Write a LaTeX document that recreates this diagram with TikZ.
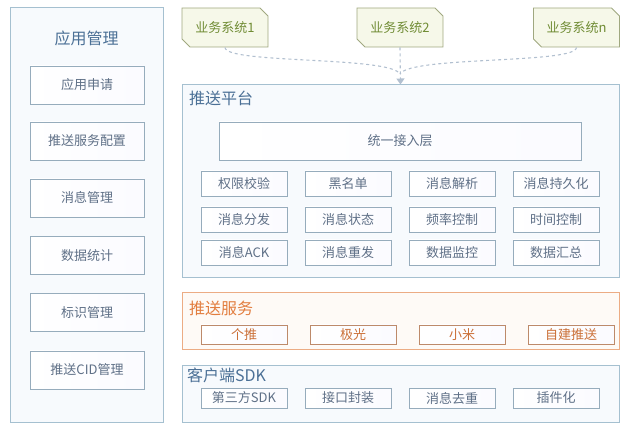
\documentclass[tikz,border=0pt]{standalone}
\usepackage{fontspec}
\usetikzlibrary{shapes.misc,arrows.meta}
\newfontfamily\cjk{Noto Sans CJK SC}

\definecolor{panelline}{RGB}{165,192,208}
\definecolor{panelfill}{RGB}{247,250,253}
\definecolor{boxline}{RGB}{150,172,188}
\definecolor{boxtext}{RGB}{95,112,135}
\definecolor{titletext}{RGB}{75,112,150}
\definecolor{orangeline}{RGB}{236,172,132}
\definecolor{orangetext}{RGB}{226,125,62}
\definecolor{orangefill}{RGB}{254,250,246}
\definecolor{sysfill}{RGB}{246,248,233}
\definecolor{sysline}{RGB}{160,168,128}
\definecolor{systext}{RGB}{112,140,52}
\definecolor{flowline}{RGB}{178,192,208}

\tikzset{
  panel/.style={draw=panelline, line width=1pt, fill=panelfill, inner sep=0},
  opanel/.style={draw=orangeline, line width=1pt, fill=orangefill, inner sep=0},
  item/.style={draw=boxline, line width=0.9pt, left color=white, right color=panelfill!60!blue!4,
    text=boxtext, font=\cjk\fontsize{13}{15}\selectfont, inner sep=0},
  oitem/.style={item, draw=orangeline!80!black, text=orangetext!90!black},
  ptitle/.style={text=titletext, font=\cjk\fontsize{16}{18}\selectfont, inner sep=0},
  sysnode/.style={chamfered rectangle, chamfered rectangle corners={north east,south west},
    chamfered rectangle xsep=4pt, chamfered rectangle ysep=4pt,
    draw=sysline, line width=0.9pt, fill=sysfill, text=systext,
    font=\cjk\fontsize{13}{15}\selectfont, minimum width=86pt, minimum height=39pt, inner sep=0},
  flow/.style={draw=flowline, line width=1.1pt, dashed}
}

\begin{document}
\begin{tikzpicture}[x=1pt,y=-1pt]
  \useasboundingbox (0,0) rectangle (640,430);

  % left column
  \node[panel, minimum width=153pt, minimum height=414pt] (app) at (86.5,215) {};
  \node[ptitle] (apptitle) at (86.5,38) {应用管理};
  \node[item, minimum width=114pt, minimum height=38pt] (a1) at (87,85) {应用申请};
  \node[item, minimum width=114pt, minimum height=38pt] (a2) at (87,141) {推送服务配置};
  \node[item, minimum width=114pt, minimum height=38pt] (a3) at (87,198) {消息管理};
  \node[item, minimum width=114pt, minimum height=38pt] (a4) at (87,255.5) {数据统计};
  \node[item, minimum width=114pt, minimum height=38pt] (a5) at (87,312.5) {标识管理};
  \node[item, minimum width=114pt, minimum height=38pt] (a6) at (87,370) {推送CID管理};

  % business systems
  \node[sysnode] (sys1) at (225,27.5) {业务系统1};
  \node[sysnode] (sys2) at (400,27.5) {业务系统2};
  \node[sysnode] (sysn) at (576.5,27.5) {业务系统n};

  % push platform
  \node[panel, minimum width=437pt, minimum height=193pt] (pf) at (400.5,181.5) {};
  \node[ptitle, anchor=west] (pftitle) at (189,98) {推送平台};
  \node[item, minimum width=362pt, minimum height=38pt] (entry) at (400,141) {统一接入层};
  \foreach \t [count=\i] in {权限校验,黑名单,消息解析,消息持久化}
    \node[item, minimum width=86pt, minimum height=25pt] (r1\i) at ({140+104*\i},183.5) {\t};
  \foreach \t [count=\i] in {消息分发,消息状态,频率控制,时间控制}
    \node[item, minimum width=86pt, minimum height=25pt] (r2\i) at ({140+104*\i},219.5) {\t};
  \foreach \t [count=\i] in {消息ACK,消息重发,数据监控,数据汇总}
    \node[item, minimum width=86pt, minimum height=25pt] (r3\i) at ({140+104*\i},252.5) {\t};

  % push services
  \node[opanel, minimum width=437pt, minimum height=57pt] (ps) at (400.5,321.5) {};
  \node[ptitle, anchor=west, text=orangetext] (pstitle) at (189,308) {推送服务};
  \foreach \t [count=\i] in {个推,极光,小米,自建推送}
    \node[oitem, minimum width=86pt, minimum height=19pt] (s\i) at ({135+109*\i},334.5) {\t};

  % client sdk
  \node[panel, minimum width=437pt, minimum height=57pt] (sdk) at (400.5,393.5) {};
  \node[ptitle, anchor=west] (sdktitle) at (187,375) {客户端SDK};
  \foreach \t [count=\i] in {第三方SDK,接口封装,消息去重,插件化}
    \node[item, minimum width=86pt, minimum height=20pt] (c\i) at ({140+104*\i},398) {\t};

  % flows
  \coordinate (merge) at (400,74);
  \draw[flow] (sys1.south) .. controls (225,64) and (390,56) .. (merge);
  \draw[flow] (sysn.south) .. controls (576.5,64) and (410,56) .. (merge);
  \draw[flow, -{Triangle[width=8pt,length=6pt]}] (sys2.south) -- (pf.north);
\end{tikzpicture}
\end{document}
